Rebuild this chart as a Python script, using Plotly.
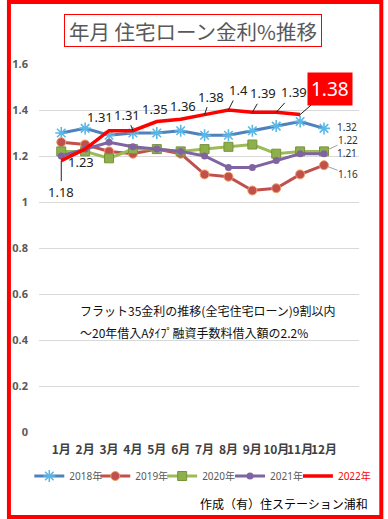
import plotly.graph_objects as go

months = ["1月", "2月", "3月", "4月", "5月", "6月", "7月", "8月", "9月", "10月", "11月", "12月"]
r2018 = [1.30, 1.32, 1.29, 1.30, 1.30, 1.31, 1.29, 1.29, 1.31, 1.33, 1.35, 1.32]
r2019 = [1.26, 1.25, 1.22, 1.21, 1.23, 1.21, 1.12, 1.11, 1.05, 1.06, 1.12, 1.16]
r2020 = [1.22, 1.22, 1.19, 1.23, 1.23, 1.22, 1.23, 1.24, 1.25, 1.21, 1.22, 1.22]
r2021 = [1.20, 1.23, 1.26, 1.24, 1.23, 1.22, 1.20, 1.15, 1.15, 1.18, 1.21, 1.21]
r2022 = [1.18, 1.23, 1.31, 1.31, 1.35, 1.36, 1.38, 1.40, 1.39, 1.39, 1.38]
series_names = ["2018年", "2019年", "2020年", "2021年", "2022年"]

FONT = "Noto Sans, Noto Sans CJK JP, sans-serif"
JP = "Noto Sans CJK JP, sans-serif"

fig = go.Figure()
fig.add_trace(go.Scatter(
    x=months, y=r2018, name=series_names[0], mode="lines+markers", legend="legend",
    line=dict(color="#4F81BD", width=3),
    marker=dict(symbol="asterisk-open", size=10, color="#5BB8E6", line=dict(width=1.6, color="#5BB8E6"))))
fig.add_trace(go.Scatter(
    x=months, y=r2019, name=series_names[1], mode="lines+markers", legend="legend2",
    line=dict(color="#C0504D", width=3),
    marker=dict(symbol="circle", size=9, color="#C0504D", line=dict(width=1, color="#F2A060"))))
fig.add_trace(go.Scatter(
    x=months, y=r2020, name=series_names[2], mode="lines+markers", legend="legend3",
    line=dict(color="#9BBB59", width=3),
    marker=dict(symbol="square", size=9, color="#8DB04A", line=dict(width=1, color="#77933C"))))
fig.add_trace(go.Scatter(
    x=months, y=r2021, name=series_names[3], mode="lines+markers", legend="legend4",
    line=dict(color="#8064A2", width=3),
    marker=dict(symbol="circle", size=7, color="#8064A2")))
fig.add_trace(go.Scatter(
    x=months[:len(r2022)], y=r2022, legend="legend5",
    name="<span style='color:#FF0000'>" + series_names[4] + "</span>", mode="lines",
    line=dict(color="#FF0000", width=3.5)))

anns = []
# 2022 labels: (dx, dy, arrow)
off2022 = [(0, 31, True), (-4, 13, False), (-9, -14, False), (-6, -16, True), (-2, -13, False),
           (2, -13, False), (6, -18, True), (10, -20, True), (11, -19, True), (18, -20, True)]
for i, v in enumerate(r2022[:-1]):
    dx, dy, arr = off2022[i]
    if arr:
        anns.append(dict(x=months[i], y=v, text=f"{v:g}", showarrow=True, arrowhead=0,
                         arrowwidth=1, arrowcolor="#202020", ax=dx, ay=dy, standoff=0,
                         font=dict(family=FONT, size=13, color="#202020")))
    else:
        anns.append(dict(x=months[i], y=v, text=f"{v:g}", showarrow=False,
                         xshift=dx, yshift=-dy,
                         font=dict(family=FONT, size=13, color="#202020")))
last = len(r2022) - 1
anns.append(dict(x=months[last], y=r2022[last], text=f"{r2022[last]:g}", showarrow=True,
                 arrowhead=0, arrowwidth=1, arrowcolor="#202020", ax=30, ay=-26, standoff=0,
                 bgcolor="#FF0000", borderpad=3,
                 font=dict(family=FONT, size=19, color="white")))
# end labels: (series, dx, dy, leader line)
end_specs = [(r2018, 23, -1, False), (r2020, 24, -11, True), (r2021, 23, -1, False), (r2019, 24, 9, True)]
for arr_vals, dx, dy, arr in end_specs:
    v = arr_vals[-1]
    if arr:
        anns.append(dict(x=months[-1], y=v, text=f"{v:g}", showarrow=True, arrowhead=0,
                         arrowwidth=1, arrowcolor="#A0A0A0", ax=dx, ay=dy, standoff=4,
                         borderpad=0, font=dict(family=FONT, size=10, color="#303030")))
    else:
        anns.append(dict(x=months[-1], y=v, text=f"{v:g}", showarrow=False, xshift=dx,
                         yshift=-dy, borderpad=0,
                         font=dict(family=FONT, size=10, color="#303030")))

# title box
anns.append(dict(xref="paper", yref="paper", x=0.482, y=1.0897, xanchor="center", yanchor="middle",
                 text="年月 住宅ローン金利%推移", showarrow=False, width=254, height=29,
                 bordercolor="#FF0000", borderwidth=1, borderpad=1, bgcolor="white",
                 font=dict(family=JP, size=20.5, color="#595959")))
# note text
anns.append(dict(xref="paper", yref="paper", x=0.121, y=0.3315, xanchor="left", yanchor="middle",
                 text="フラット35金利の推移(全宅住宅ローン)9割以内", showarrow=False,
                 font=dict(family=JP, size=12, color="#111111")))
anns.append(dict(xref="paper", yref="paper", x=0.121, y=0.2717, xanchor="left", yanchor="middle",
                 text="～20年借入Aﾀｲﾌﾟ融資手数料借入額の2.2%", showarrow=False,
                 font=dict(family=JP, size=12, color="#111111")))
anns.append(dict(xref="paper", yref="paper", x=1.033, y=-0.193, xanchor="right", yanchor="middle",
                 text="作成（有）住ステーション浦和", showarrow=False,
                 font=dict(family=JP, size=12, color="#000000")))

legend_px = [23, 91, 160, 230, 300]
legends = {}
for i, px in enumerate(legend_px):
    key = "legend" if i == 0 else f"legend{i + 1}"
    legends[key] = dict(orientation="h", x=(px - 33) / 330, xanchor="left",
                        y=-0.1196, yanchor="middle", itemwidth=30,
                        font=dict(family=FONT, size=10, color="#595959"),
                        bgcolor="rgba(0,0,0,0)")

fig.update_layout(
    width=388, height=519,
    margin=dict(l=33, r=25, t=64, b=87),
    paper_bgcolor="white", plot_bgcolor="white",
    font=dict(family=FONT, color="#595959"),
    showlegend=True,
    annotations=anns,
    hovermode=False,
    shapes=[dict(type="rect", xref="paper", yref="paper",
                 x0=(2 - 33) / 330, x1=(386 - 33) / 330, y0=(432 - 517) / 368, y1=(432 - 2) / 368,
                 line=dict(color="#FF0000", width=4))],
    **legends,
)
fig.update_xaxes(type="category", showgrid=False, showline=False, ticks="", tickangle=0,
                 ticklabelstandoff=9,
                 tickfont=dict(family=JP, size=12, color="#404040", weight="bold"))
fig.update_yaxes(range=[0, 1.6], dtick=0.2, showgrid=True, gridcolor="#D9D9D9", gridwidth=1,
                 zeroline=False, showline=False, ticks="", ticklabelstandoff=10,
                 tickfont=dict(family=FONT, size=11, color="#595959", weight="bold"))

fig.write_html("out.html", config={"displayModeBar": False},
               post_script="document.body.style.margin='0px';document.body.style.overflow='hidden';")
